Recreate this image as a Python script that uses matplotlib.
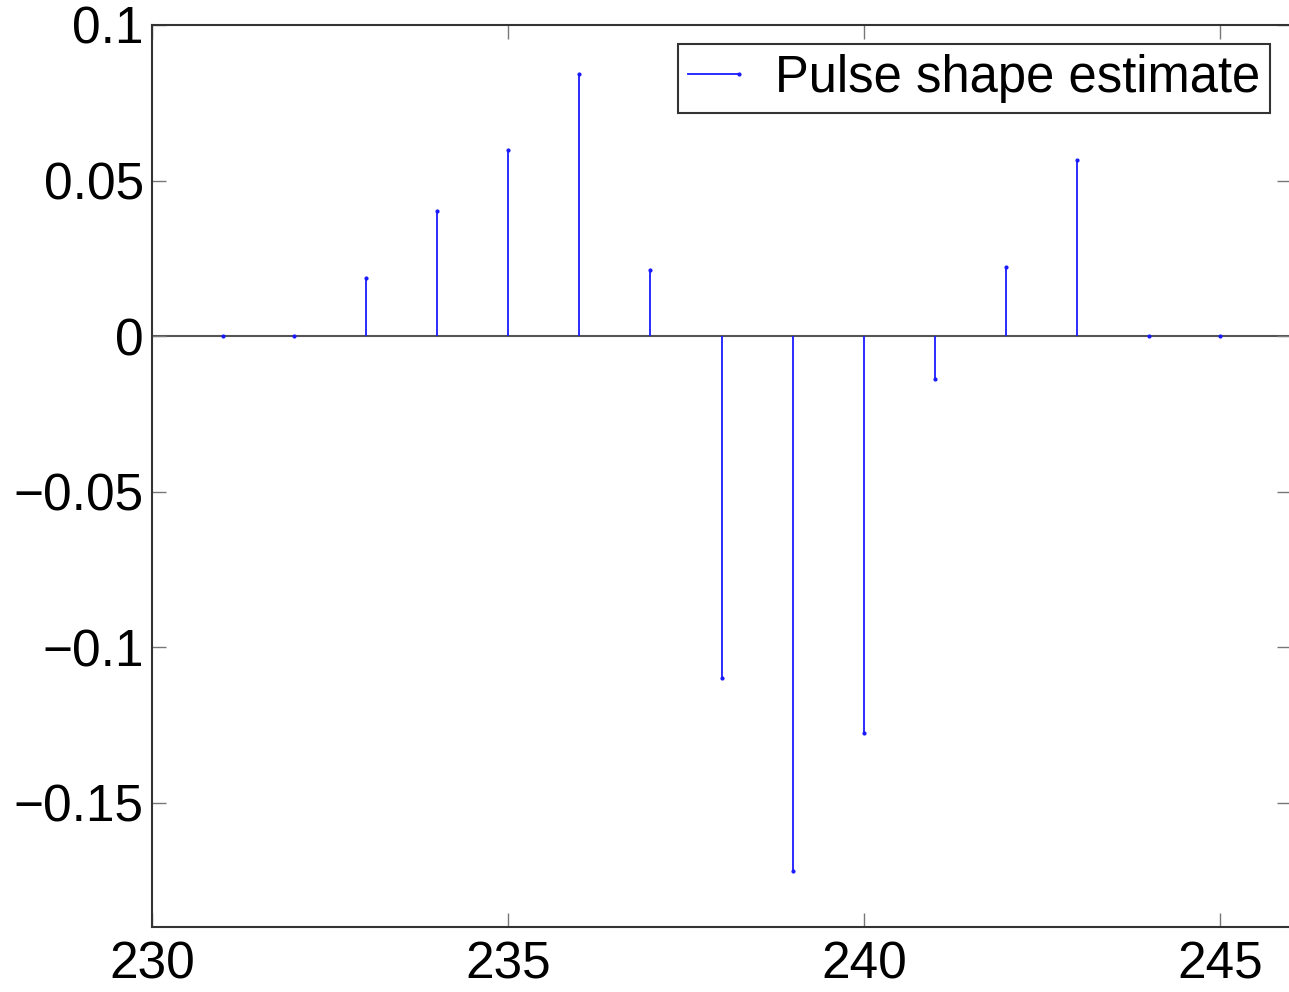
import matplotlib
matplotlib.use("Agg")
import matplotlib.pyplot as plt
from matplotlib.lines import Line2D
from matplotlib.legend_handler import HandlerLine2D

# sample index and pulse shape estimate
n = [231, 232, 233, 234, 235, 236, 237, 238, 239, 240, 241, 242, 243, 244, 245]
h = [0.0, 0.0, 0.0186, 0.0402, 0.0598, 0.0842, 0.0212, -0.110, -0.172,
     -0.1277, -0.0138, 0.0222, 0.0566, 0.0, 0.0]

xticks = [230, 235, 240, 245]
yticks = [-0.15, -0.1, -0.05, 0, 0.05, 0.1]
ytick_labels = ["\u22120.15", "\u22120.1", "\u22120.05", "0", "0.05", "0.1"]

plt.rcParams["font.family"] = ["Liberation Sans", "DejaVu Sans"]


class EndDotHandler(HandlerLine2D):
    # matlab-style legend entry: line with a single dot at the right end
    def create_artists(self, legend, orig_handle, xdescent, ydescent,
                       width, height, fontsize, trans):
        arts = super().create_artists(legend, orig_handle, xdescent, ydescent,
                                      width, height, fontsize, trans)
        for a in arts:
            x = a.get_xdata()
            if len(x) > 1 and a.get_marker() not in (None, "None", ""):
                a.set_markevery([len(x) - 1])
        return arts


fig = plt.figure(figsize=(12.89, 9.92), dpi=100)
ax = fig.add_axes([152 / 1289, 65 / 992, 1139 / 1289, 902 / 992])

blue = "#1a1aff"
ml, sl, bl = ax.stem(n, h, linefmt="-", markerfmt=".", basefmt=" ")
plt.setp(sl, color=blue, linewidth=1.3)
plt.setp(ml, color=blue, markersize=4)
ax.axhline(0, color="#555555", linewidth=1.5, zorder=1)

ax.set_xlim(230, 246)
ax.set_ylim(-0.19, 0.1)
ax.set_xticks(xticks)
ax.set_xticklabels([str(t) for t in xticks])
ax.set_yticks(yticks)
ax.set_yticklabels(ytick_labels)
ax.tick_params(direction="in", length=10, width=1, color="#777777",
               top=True, right=True, labelsize=37, pad=6)
ax.tick_params(axis="x", pad=10)
for s in ax.spines.values():
    s.set_linewidth(1.5)
    s.set_color("#333333")

handle = Line2D([0], [0], color=blue, linewidth=1.3, marker=".", markersize=4)
leg = ax.legend([handle], ["Pulse shape estimate"], loc="upper right",
                bbox_to_anchor=(1270 / 1289, 1 - 44 / 992),
                bbox_transform=fig.transFigure, fontsize=36.5, numpoints=2,
                handler_map={Line2D: EndDotHandler(marker_pad=0.0)},
                fancybox=False, framealpha=1, borderpad=0.2,
                handlelength=1.0, handletextpad=0.7, borderaxespad=0)
leg.get_frame().set_edgecolor("#333333")
leg.get_frame().set_linewidth(1.5)

fig.savefig("out.png", dpi=100)
